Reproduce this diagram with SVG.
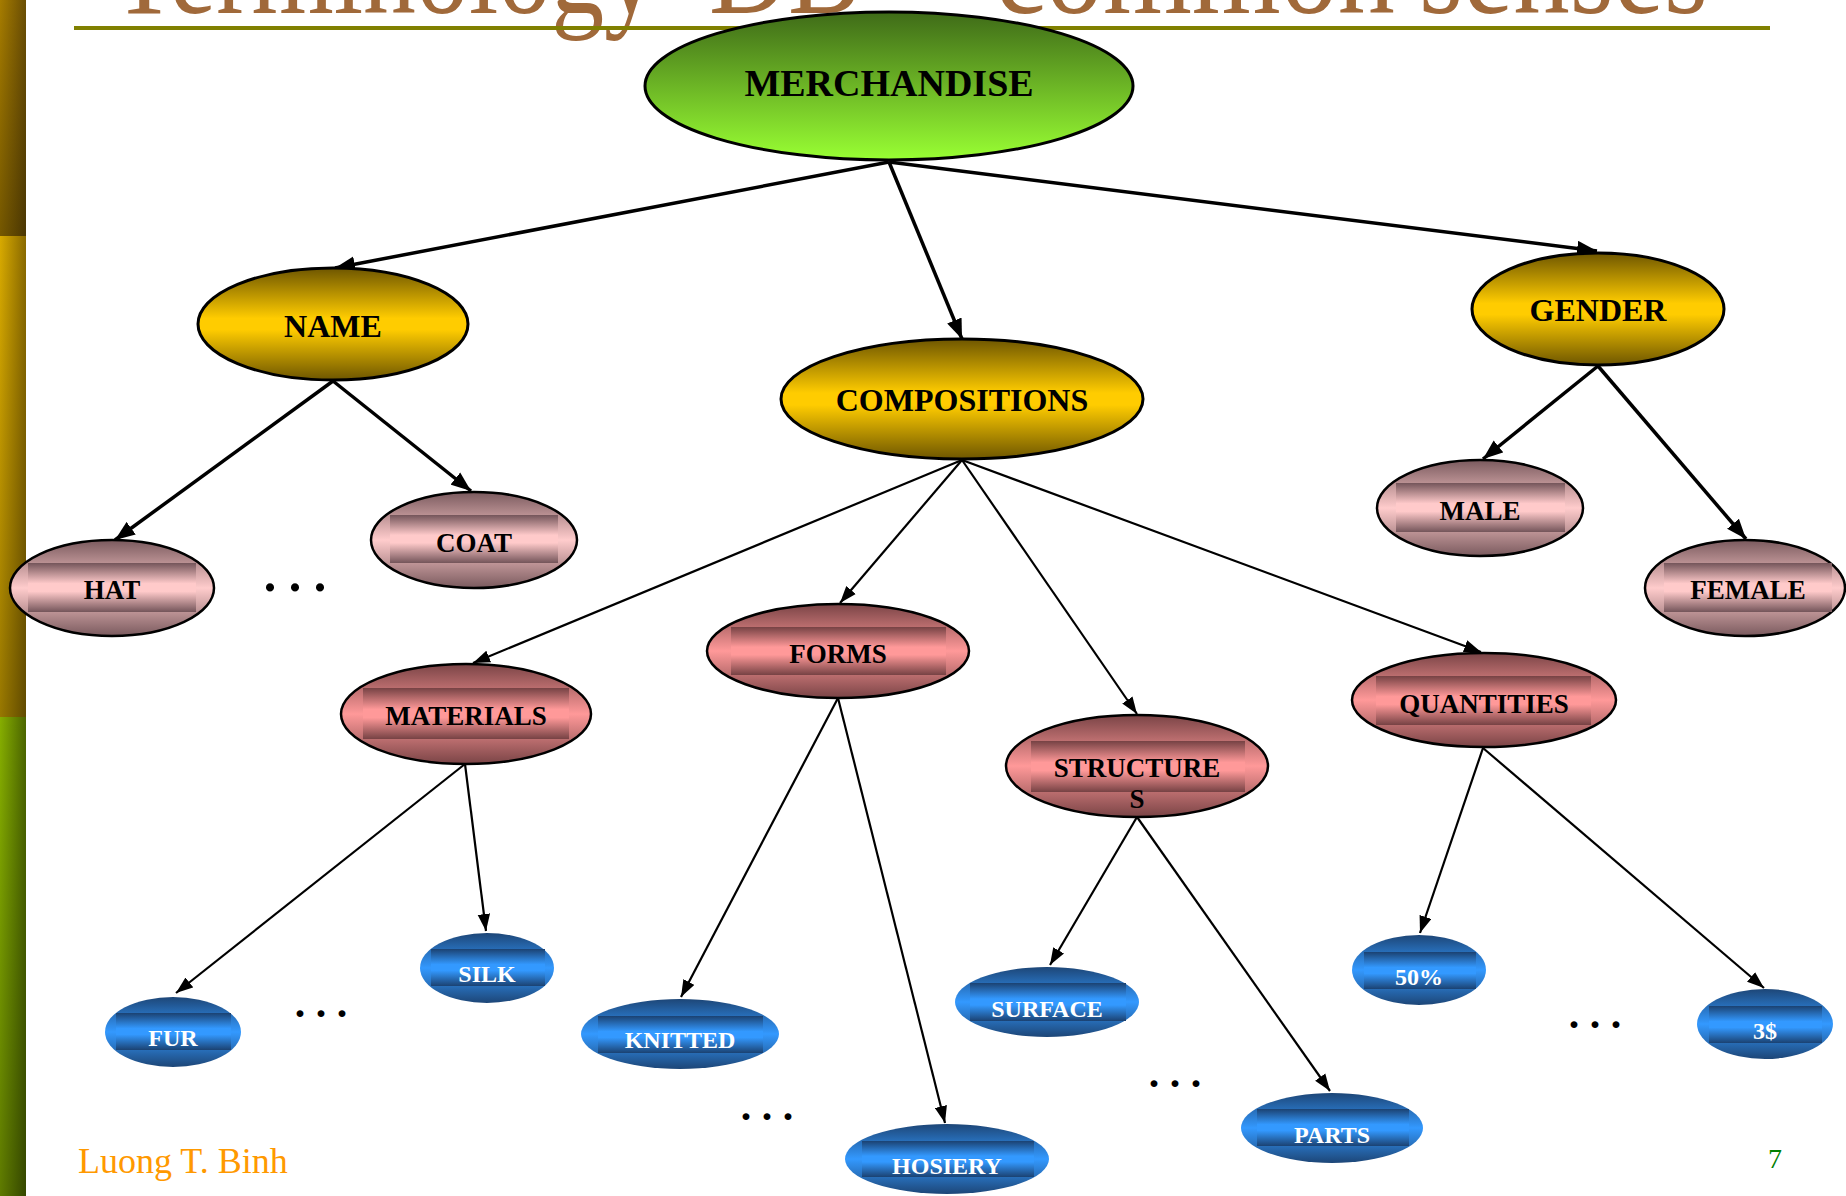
<svg xmlns="http://www.w3.org/2000/svg" width="1846" height="1196" viewBox="0 0 1846 1196">
<defs>
<linearGradient id="gGreen" x1="0" y1="0" x2="0" y2="1"><stop offset="0" stop-color="#3f6b18"/><stop offset="1" stop-color="#99ff33"/></linearGradient>
<linearGradient id="gGold" x1="0" y1="0" x2="0" y2="1"><stop offset="0" stop-color="#6e5600"/><stop offset="0.45" stop-color="#ffcc00"/><stop offset="0.55" stop-color="#ffcc00"/><stop offset="1" stop-color="#6e5600"/></linearGradient>
<linearGradient id="gPink" x1="0" y1="0" x2="0" y2="1"><stop offset="0" stop-color="#7a5a5e"/><stop offset="0.5" stop-color="#ffcccc"/><stop offset="1" stop-color="#7a5a5e"/></linearGradient>
<linearGradient id="gPinkR" x1="0" y1="0" x2="0" y2="1"><stop offset="0" stop-color="#74555a"/><stop offset="0.42" stop-color="#ffcaca"/><stop offset="0.58" stop-color="#ffcaca"/><stop offset="1" stop-color="#74555a"/></linearGradient>
<linearGradient id="gSal" x1="0" y1="0" x2="0" y2="1"><stop offset="0" stop-color="#7a4446"/><stop offset="0.5" stop-color="#ff9999"/><stop offset="1" stop-color="#7a4446"/></linearGradient>
<linearGradient id="gSalR" x1="0" y1="0" x2="0" y2="1"><stop offset="0" stop-color="#764244"/><stop offset="0.42" stop-color="#ff9999"/><stop offset="0.58" stop-color="#ff9999"/><stop offset="1" stop-color="#764244"/></linearGradient>
<linearGradient id="gBlue" x1="0" y1="0" x2="0" y2="1"><stop offset="0" stop-color="#1d4677"/><stop offset="0.5" stop-color="#3399ff"/><stop offset="1" stop-color="#1d4677"/></linearGradient>
<linearGradient id="gBlueR" x1="0" y1="0" x2="0" y2="1"><stop offset="0" stop-color="#1b4272"/><stop offset="0.42" stop-color="#3399ff"/><stop offset="0.58" stop-color="#3399ff"/><stop offset="1" stop-color="#1b4272"/></linearGradient>
<linearGradient id="barBrown" x1="0" y1="0" x2="1" y2="0"><stop offset="0" stop-color="#a67c00"/><stop offset="1" stop-color="#6a4e04"/></linearGradient>
<linearGradient id="barGold" x1="0" y1="0" x2="1" y2="0"><stop offset="0" stop-color="#d8aa00"/><stop offset="1" stop-color="#8a6a00"/></linearGradient>
<linearGradient id="barGreen" x1="0" y1="0" x2="1" y2="0"><stop offset="0" stop-color="#86ae00"/><stop offset="1" stop-color="#4c6600"/></linearGradient>
<linearGradient id="barShade" x1="0" y1="0" x2="0" y2="1"><stop offset="0" stop-color="#000" stop-opacity="0"/><stop offset="1" stop-color="#000" stop-opacity="0.3"/></linearGradient>
<marker id="ahThick" markerUnits="userSpaceOnUse" markerWidth="20" markerHeight="16" viewBox="0 0 18 14" refX="18" refY="7" orient="auto"><path d="M0,0 L18,7 L0,14 z" fill="#000"/></marker>
<marker id="ahThin" markerUnits="userSpaceOnUse" markerWidth="17" markerHeight="13" viewBox="0 0 15 11" refX="15" refY="5.5" orient="auto"><path d="M0,0 L15,5.5 L0,11 z" fill="#000"/></marker>
</defs>
<style>
.thick{stroke:#000;stroke-width:3.5;fill:none;marker-end:url(#ahThick)}
.thin{stroke:#000;stroke-width:2.2;fill:none;marker-end:url(#ahThin)}
.green{fill:url(#gGreen);stroke:#000;stroke-width:3}
.gold{fill:url(#gGold);stroke:#000;stroke-width:3}
.pink{fill:url(#gPink);stroke:#000;stroke-width:2.5}
.pinkr{fill:url(#gPinkR)}
.sal{fill:url(#gSal);stroke:#000;stroke-width:2.5}
.salr{fill:url(#gSalR)}
.blue{fill:url(#gBlue)}
.bluer{fill:url(#gBlueR)}
text{font-family:"Liberation Serif","Times New Roman",serif;font-weight:bold;text-anchor:middle}
.t0{font-size:38px;fill:#000}
.t1{font-size:32px;fill:#000}
.t2{font-size:27px;fill:#000}
.t3{font-size:24px;fill:#fff}
.dots{fill:#000}
</style>
<rect width="1846" height="1196" fill="#fff"/>
<g id="sidebar">
<rect x="0" y="0" width="26" height="236" fill="url(#barBrown)"/>
<rect x="0" y="0" width="26" height="236" fill="url(#barShade)"/>
<rect x="0" y="236" width="26" height="481" fill="url(#barGold)"/>
<rect x="0" y="236" width="26" height="481" fill="url(#barShade)"/>
<rect x="0" y="717" width="26" height="479" fill="url(#barGreen)"/>
<rect x="0" y="717" width="26" height="479" fill="url(#barShade)"/>
</g>
<g id="title">
<text y="13" style="font-weight:normal;font-size:130px;fill:#a0693a;text-anchor:start"><tspan x="112" textLength="545" lengthAdjust="spacingAndGlyphs">Terminology</tspan><tspan x="709" textLength="152" lengthAdjust="spacingAndGlyphs">DB</tspan><tspan x="995" textLength="400" lengthAdjust="spacingAndGlyphs">common</tspan><tspan x="1419" textLength="289" lengthAdjust="spacingAndGlyphs">senses</tspan></text>
<rect x="74" y="26" width="1696" height="4" fill="#808000"/>
</g>
<g id="connectors">
<line class="thick" x1="889" y1="162" x2="335" y2="268"/>
<line class="thick" x1="889" y1="162" x2="962" y2="339"/>
<line class="thick" x1="889" y1="162" x2="1597" y2="251"/>
<line class="thick" x1="333" y1="381" x2="115" y2="540"/>
<line class="thick" x1="333" y1="381" x2="471" y2="491"/>
<line class="thick" x1="1598" y1="366" x2="1483" y2="459"/>
<line class="thick" x1="1598" y1="366" x2="1746" y2="539"/>
<line class="thin" x1="962" y1="460" x2="473" y2="663"/>
<line class="thin" x1="962" y1="460" x2="840" y2="603"/>
<line class="thin" x1="962" y1="460" x2="1137" y2="714"/>
<line class="thin" x1="962" y1="460" x2="1481" y2="652"/>
<line class="thin" x1="465" y1="764" x2="176" y2="993"/>
<line class="thin" x1="465" y1="764" x2="486" y2="931"/>
<line class="thin" x1="838" y1="698" x2="681" y2="997"/>
<line class="thin" x1="838" y1="698" x2="945" y2="1123"/>
<line class="thin" x1="1137" y1="817" x2="1050" y2="965"/>
<line class="thin" x1="1137" y1="817" x2="1330" y2="1091"/>
<line class="thin" x1="1483" y1="748" x2="1420" y2="933"/>
<line class="thin" x1="1483" y1="748" x2="1764" y2="988"/>
</g>
<g id="merchandise"><ellipse class="green" cx="889" cy="86" rx="244" ry="74"/><text class="t0" x="889" y="96">MERCHANDISE</text></g>
<g id="name"><ellipse class="gold" cx="333" cy="324" rx="135" ry="56"/><text class="t1" x="333" y="337">NAME</text></g>
<g id="compositions"><ellipse class="gold" cx="962" cy="399" rx="181" ry="60"/><text class="t1" x="962" y="411">COMPOSITIONS</text></g>
<g id="gender"><ellipse class="gold" cx="1598" cy="309" rx="126" ry="56"/><text class="t1" x="1598" y="321">GENDER</text></g>
<g id="hat"><ellipse class="pink" cx="112" cy="588" rx="102" ry="48"/><rect class="pinkr" x="28" y="563" width="168" height="49"/><text class="t2" x="112" y="599">HAT</text></g>
<g id="coat"><ellipse class="pink" cx="474" cy="540" rx="103" ry="48"/><rect class="pinkr" x="390" y="515" width="168" height="48"/><text class="t2" x="474" y="552">COAT</text></g>
<g id="male"><ellipse class="pink" cx="1480" cy="508" rx="103" ry="48"/><rect class="pinkr" x="1396" y="483" width="169" height="49"/><text class="t2" x="1480" y="520">MALE</text></g>
<g id="female"><ellipse class="pink" cx="1745" cy="588" rx="100" ry="48"/><rect class="pinkr" x="1664" y="563" width="168" height="49"/><text class="t2" x="1748" y="599">FEMALE</text></g>
<g id="materials"><ellipse class="sal" cx="466" cy="714" rx="125" ry="50"/><rect class="salr" x="363" y="688" width="206" height="51"/><text class="t2" x="466" y="725">MATERIALS</text></g>
<g id="forms"><ellipse class="sal" cx="838" cy="651" rx="131" ry="47"/><rect class="salr" x="731" y="627" width="215" height="48"/><text class="t2" x="838" y="663">FORMS</text></g>
<g id="structures"><ellipse class="sal" cx="1137" cy="766" rx="131" ry="51"/><rect class="salr" x="1031" y="741" width="214" height="51"/><text class="t2" x="1137" y="777">STRUCTURE</text><text class="t2" x="1137" y="808">S</text></g>
<g id="quantities"><ellipse class="sal" cx="1484" cy="700" rx="132" ry="47"/><rect class="salr" x="1376" y="676" width="215" height="49"/><text class="t2" x="1484" y="713">QUANTITIES</text></g>
<g id="fur"><ellipse class="blue" cx="173" cy="1032" rx="68" ry="35"/><rect class="bluer" x="116" y="1013" width="115" height="37"/><text class="t3" x="173" y="1046">FUR</text></g>
<g id="silk"><ellipse class="blue" cx="487" cy="968" rx="67" ry="35"/><rect class="bluer" x="431" y="949" width="114" height="37"/><text class="t3" x="487" y="982">SILK</text></g>
<g id="knitted"><ellipse class="blue" cx="680" cy="1034" rx="99" ry="35"/><rect class="bluer" x="598" y="1016" width="165" height="37"/><text class="t3" x="680" y="1048">KNITTED</text></g>
<g id="hosiery"><ellipse class="blue" cx="947" cy="1159" rx="102" ry="35"/><rect class="bluer" x="862" y="1141" width="172" height="36"/><text class="t3" x="947" y="1174">HOSIERY</text></g>
<g id="surface"><ellipse class="blue" cx="1047" cy="1002" rx="92" ry="35"/><rect class="bluer" x="970" y="983" width="156" height="38"/><text class="t3" x="1047" y="1017">SURFACE</text></g>
<g id="parts"><ellipse class="blue" cx="1332" cy="1128" rx="91" ry="35"/><rect class="bluer" x="1257" y="1109" width="152" height="37"/><text class="t3" x="1332" y="1143">PARTS</text></g>
<g id="pct50"><ellipse class="blue" cx="1419" cy="970" rx="67" ry="35"/><rect class="bluer" x="1364" y="952" width="112" height="37"/><text class="t3" x="1419" y="985">50%</text></g>
<g id="usd3"><ellipse class="blue" cx="1765" cy="1024" rx="68" ry="35"/><rect class="bluer" x="1709" y="1006" width="113" height="37"/><text class="t3" x="1765" y="1039">3$</text></g>
<g id="ellipses">
<text class="dots" x="295" y="591" style="font-size:50px">. . .</text>
<text class="dots" x="321" y="1017" style="font-size:42px">. . .</text>
<text class="dots" x="767" y="1120" style="font-size:42px">. . .</text>
<text class="dots" x="1175" y="1087" style="font-size:42px">. . .</text>
<text class="dots" x="1595" y="1028" style="font-size:42px">. . .</text>
</g>
<g id="footer">
<text x="78" y="1173" style="font-weight:normal;font-size:36px;fill:#ff9900;text-anchor:start">Luong T. Binh</text>
<text x="1775" y="1168" style="font-weight:normal;font-size:28px;fill:#008000">7</text>
</g>
</svg>
